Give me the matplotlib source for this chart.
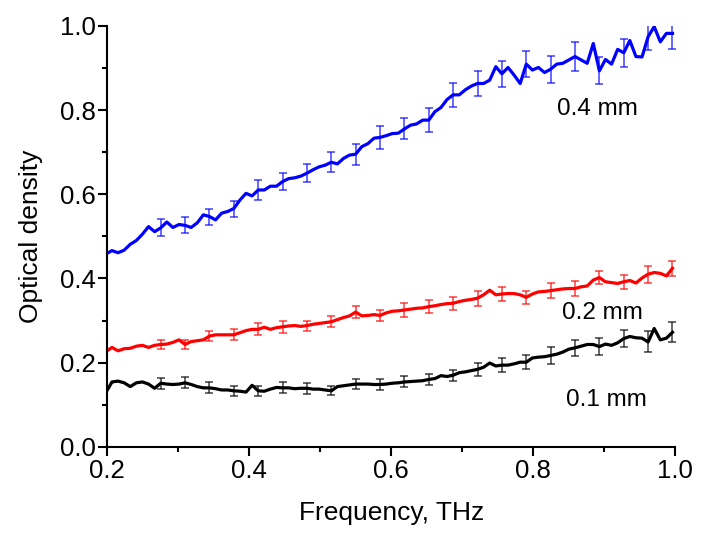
import numpy as np
import matplotlib
matplotlib.use('Agg')
import matplotlib.pyplot as plt
from matplotlib.ticker import MultipleLocator, FormatStrFormatter

plt.rcParams['font.family'] = ['Liberation Sans', 'DejaVu Sans']

# Frequency grid (THz), 94 samples
freq = np.linspace(0.198, 0.996, 94)

# Optical density for the three thicknesses
od_04mm = [0.458, 0.466, 0.461, 0.467, 0.481, 0.490, 0.505, 0.523, 0.511, 0.520,
           0.534, 0.521, 0.528, 0.526, 0.521, 0.532, 0.551, 0.547, 0.539, 0.555,
           0.559, 0.566, 0.586, 0.602, 0.596, 0.610, 0.610, 0.619, 0.619, 0.630,
           0.637, 0.639, 0.643, 0.650, 0.658, 0.665, 0.669, 0.676, 0.672, 0.685,
           0.693, 0.695, 0.713, 0.720, 0.733, 0.735, 0.739, 0.744, 0.745, 0.755,
           0.764, 0.767, 0.776, 0.776, 0.796, 0.806, 0.825, 0.836, 0.836, 0.848,
           0.857, 0.863, 0.863, 0.871, 0.903, 0.886, 0.901, 0.883, 0.863, 0.909,
           0.895, 0.901, 0.889, 0.897, 0.909, 0.911, 0.919, 0.927, 0.919, 0.911,
           0.958, 0.893, 0.920, 0.909, 0.944, 0.936, 0.965, 0.927, 0.926, 0.974,
           0.998, 0.962, 0.982, 0.982]

od_02mm = [0.226, 0.236, 0.228, 0.233, 0.234, 0.239, 0.241, 0.236, 0.241, 0.243,
           0.244, 0.248, 0.254, 0.243, 0.250, 0.252, 0.254, 0.263, 0.266, 0.266,
           0.266, 0.266, 0.271, 0.276, 0.279, 0.279, 0.284, 0.279, 0.283, 0.285,
           0.287, 0.288, 0.286, 0.288, 0.291, 0.293, 0.295, 0.297, 0.302, 0.307,
           0.311, 0.320, 0.311, 0.312, 0.314, 0.312, 0.318, 0.322, 0.323, 0.325,
           0.327, 0.329, 0.330, 0.333, 0.335, 0.338, 0.340, 0.341, 0.345, 0.348,
           0.350, 0.353, 0.361, 0.372, 0.361, 0.363, 0.364, 0.364, 0.361, 0.355,
           0.363, 0.368, 0.369, 0.371, 0.373, 0.375, 0.376, 0.376, 0.380, 0.382,
           0.396, 0.402, 0.392, 0.390, 0.388, 0.392, 0.395, 0.389, 0.401, 0.410,
           0.414, 0.412, 0.406, 0.424]

od_01mm = [0.129, 0.154, 0.156, 0.152, 0.143, 0.152, 0.154, 0.149, 0.139, 0.151,
           0.149, 0.148, 0.149, 0.152, 0.148, 0.143, 0.140, 0.140, 0.138, 0.135,
           0.135, 0.133, 0.132, 0.130, 0.146, 0.133, 0.132, 0.137, 0.141, 0.140,
           0.140, 0.138, 0.139, 0.139, 0.137, 0.137, 0.135, 0.133, 0.143, 0.145,
           0.147, 0.149, 0.149, 0.149, 0.148, 0.148, 0.149, 0.151, 0.152, 0.154,
           0.155, 0.156, 0.157, 0.160, 0.162, 0.169, 0.167, 0.170, 0.176, 0.178,
           0.181, 0.184, 0.189, 0.199, 0.192, 0.194, 0.194, 0.197, 0.201, 0.201,
           0.211, 0.213, 0.214, 0.217, 0.220, 0.225, 0.232, 0.235, 0.239, 0.243,
           0.243, 0.238, 0.244, 0.241, 0.247, 0.257, 0.262, 0.259, 0.258, 0.249,
           0.281, 0.254, 0.258, 0.272]

# Error bars are shown on every 4th sample, starting from sample 9
err_04mm = [0.020, 0.019, 0.019, 0.019, 0.023, 0.021, 0.021, 0.024, 0.025, 0.027, 0.025,
            0.028, 0.029, 0.030, 0.031, 0.030, 0.032, 0.034, 0.032, 0.033, 0.032, 0.037]
err_02mm = [0.011, 0.011, 0.012, 0.013, 0.014, 0.014, 0.012, 0.013, 0.015, 0.014, 0.016,
            0.015, 0.016, 0.018, 0.017, 0.015, 0.018, 0.018, 0.015, 0.017, 0.020, 0.018]
err_01mm = [0.013, 0.013, 0.013, 0.012, 0.012, 0.013, 0.013, 0.011, 0.012, 0.013, 0.013,
            0.013, 0.013, 0.015, 0.016, 0.017, 0.020, 0.019, 0.020, 0.021, 0.025, 0.024]

labels = ['0.4 mm', '0.2 mm', '0.1 mm']
label_pos = [(0.890, 0.802), (0.898, 0.317), (0.903, 0.111)]
colors = ['#0000ff', '#ff0000', '#000000']

fig = plt.figure(figsize=(7.12, 5.4), dpi=100)
ax = fig.add_axes([0.1507, 0.1726, 0.7978, 0.7796])

for od, err, col in zip([od_04mm, od_02mm, od_01mm], [err_04mm, err_02mm, err_01mm], colors):
    od = np.array(od)
    ax.plot(freq, od, color=col, lw=2.3, zorder=2)
    ax.errorbar(freq[9::4], od[9::4], yerr=err, fmt='none', ecolor=col,
                elinewidth=1.1, capsize=3.2, capthick=1.1, alpha=0.75, zorder=3)

for txt, (x, y) in zip(labels, label_pos):
    ax.text(x, y, txt, fontsize=17.5, ha='center', va='center')

ax.set_xlim(0.2, 1.0)
ax.set_ylim(0.0, 1.0)
ax.xaxis.set_major_locator(MultipleLocator(0.2))
ax.xaxis.set_minor_locator(MultipleLocator(0.1))
ax.yaxis.set_major_locator(MultipleLocator(0.2))
ax.yaxis.set_minor_locator(MultipleLocator(0.1))
ax.xaxis.set_major_formatter(FormatStrFormatter('%.1f'))
ax.yaxis.set_major_formatter(FormatStrFormatter('%.1f'))

for side in ['top', 'right']:
    ax.spines[side].set_visible(False)
for side in ['left', 'bottom']:
    ax.spines[side].set_linewidth(1.5)

ax.tick_params(which='major', direction='out', length=6.5, width=1.5, labelsize=18.5, pad=2)
ax.tick_params(which='minor', direction='out', length=3.5, width=1.5)

ax.set_xlabel('Frequency, THz', fontsize=19, labelpad=13)
ax.set_ylabel('Optical density', fontsize=19, labelpad=12)

fig.savefig('out.png', dpi=100)
